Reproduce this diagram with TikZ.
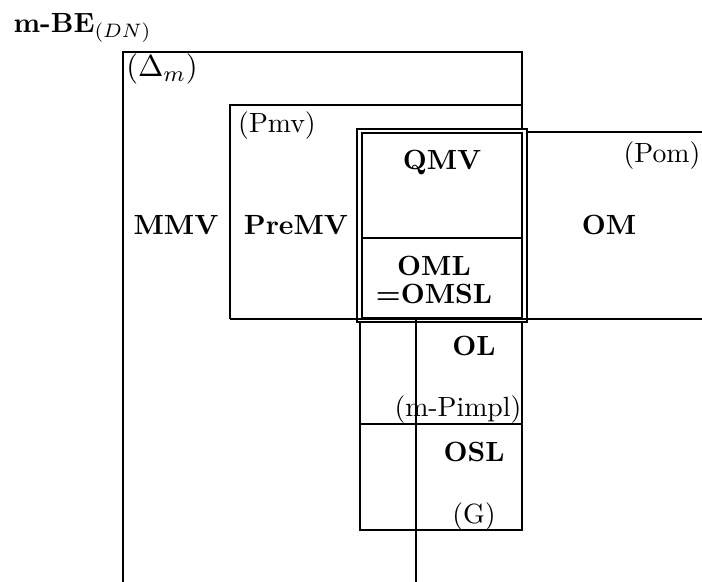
\documentclass[tikz,border=0pt]{standalone}
\begin{document}
\begin{tikzpicture}[x=0.36pt,y=-0.36pt,
  ln/.style={line width=0.45pt},
  lbl/.style={inner sep=0pt, font=\bfseries},
  tag/.style={inner sep=0pt}]
\useasboundingbox (0,0) rectangle (702,582);
% Delta_m region
\draw[ln] (123,582) -- (123,52) -- (522,52) -- (522,130);
% Pmv region
\draw[ln] (230,319) -- (230,105) -- (522,105);
% horizontal bottom line of Pmv / Pom
\draw[ln] (230,319) -- (702,319);
% Pom region top
\draw[ln] (527,132) -- (702,132);
% QMV double box
\draw[ln] (357,129) rectangle (527,322);
\draw[ln] (362,133) rectangle (522,318);
\draw[ln] (362,238) -- (522,238);
% OL / OSL boxes
\draw[ln] (360,322) -- (360,530) -- (522,530) -- (522,322);
\draw[ln] (360,424) -- (522,424);
% vertical line
\draw[ln] (416,319) -- (416,582);
% texts
\node[tag, anchor=base west] (title) at (13,32) {\textbf{m-BE}$_{(DN)}$};
\node[tag, font=\fontsize{11}{13}\selectfont] (delta) at (162,69) {$(\Delta_m)$};
\node[tag] (pmv) at (277,126) {(Pmv)};
\node[lbl] (qmv) at (442,163) {QMV};
\node[tag] (pom) at (662,156) {(Pom)};
\node[lbl] (om) at (609,225) {OM};
\node[lbl] (mmv) at (176,225) {MMV};
\node[lbl] (premv) at (296,225) {PreMV};
\node[lbl, align=center] (oml) at (434,280) {OML\\[-2pt]=OMSL};
\node[lbl] (ol) at (474,346) {OL};
\node[tag] (mpimpl) at (458,410) {(m-Pimpl)};
\node[lbl] (osl) at (474,452) {OSL};
\node[tag] (g) at (474,517) {(G)};
\end{tikzpicture}
\end{document}
